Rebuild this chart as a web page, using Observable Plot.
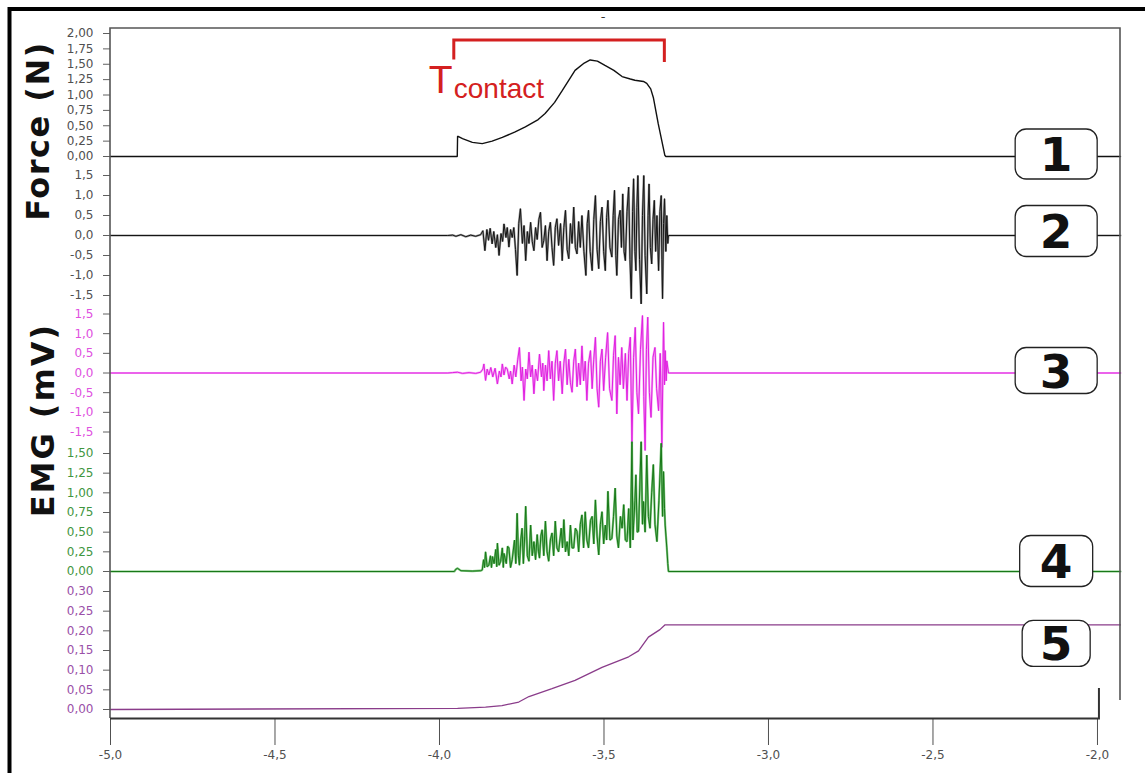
<!DOCTYPE html>
<html><head><meta charset="utf-8">
<script src="https://cdn.jsdelivr.net/npm/d3@7"></script>
<script src="https://cdn.jsdelivr.net/npm/@observablehq/plot@0.6"></script>
<style>
html,body{margin:0;padding:0;background:#fff;}
#chart{position:relative;width:1145px;height:773px;overflow:hidden;background:#fff;}
#chart svg{position:absolute;left:0;top:0;}
</style></head>
<body><div id="chart"></div>
<script>
// ---------- data ----------
const xDomain = [-5.0, -1.93];
const xTicks = [-5.0, -4.5, -4.0, -3.5, -3.0, -2.5, -2.0];
const forceTicks = [0, 0.25, 0.5, 0.75, 1.0, 1.25, 1.5, 1.75, 2.0];
const ch2Ticks = [-1.5, -1.0, -0.5, 0, 0.5, 1.0, 1.5];
const ch3Ticks = [-1.5, -1.0, -0.5, 0, 0.5, 1.0, 1.5];
const ch4Ticks = [0, 0.25, 0.5, 0.75, 1.0, 1.25, 1.5];
const ch5Ticks = [0, 0.05, 0.1, 0.15, 0.2, 0.25, 0.3];
const channelLabels = ["1", "2", "3", "4", "5"];
const tContactStart = -3.955, tContactEnd = -3.315;
const yTitles = ["Force (N)", "EMG (mV)"];

const force = [[-5.0,0],[-3.946,0],[-3.945,0.33],[-3.93,0.29],[-3.90,0.23],[-3.87,0.21],[-3.84,0.25],[-3.809,0.31],[-3.77,0.40],[-3.739,0.48],[-3.70,0.60],[-3.679,0.70],[-3.65,0.88],[-3.627,1.07],[-3.60,1.30],[-3.588,1.40],[-3.56,1.52],[-3.542,1.57],[-3.52,1.55],[-3.497,1.48],[-3.47,1.40],[-3.445,1.30],[-3.42,1.26],[-3.406,1.24],[-3.38,1.22],[-3.370,1.19],[-3.358,1.10],[-3.350,0.96],[-3.335,0.53],[-3.315,0.02],[-3.312,0],[-1.93,0]];

const ch2 = [[-5.0,0],[-3.975,0],[-3.96,0.01],[-3.95,-0.02],[-3.935,0.02],[-3.92,-0.03],[-3.905,0.01],[-3.89,-0.02],[-3.875,0.02],
[-3.868,0.12],[-3.862,-0.38],[-3.856,0.15],[-3.851,-0.12],[-3.846,0.18],[-3.840,-0.21],[-3.835,0.10],[-3.829,-0.30],[-3.824,0.02],[-3.819,-0.50],[-3.813,0.05],[-3.808,-0.15],[-3.804,0.29],[-3.798,-0.05],[-3.794,0.20],[-3.789,-0.29],[-3.784,0.15],[-3.779,-0.05],[-3.774,0.20],[-3.769,-0.35],[-3.764,-1.00],[-3.759,0.30],[-3.754,0.67],[-3.748,-0.20],[-3.743,0.25],[-3.738,-0.63],[-3.733,0.10],[-3.728,-0.20],[-3.723,0.33],[-3.718,-0.15],[-3.713,-0.38],[-3.708,0.20],[-3.703,-0.10],[-3.698,0.40],[-3.693,0.58],[-3.688,-0.30],[-3.683,-0.13],[-3.678,0.25],[-3.673,-0.63],[-3.668,0.10],[-3.663,0.33],[-3.658,-0.30],[-3.653,-0.75],[-3.648,0.20],[-3.643,0.42],[-3.638,-0.25],[-3.632,0.30],[-3.627,-0.63],[-3.622,0.20],[-3.617,0.63],[-3.612,-0.35],[-3.607,-0.58],[-3.602,0.30],[-3.597,-0.20],[-3.592,0.71],[-3.587,-0.30],[-3.582,-0.46],[-3.577,0.35],[-3.572,-0.30],[-3.567,0.50],[-3.561,-0.40],[-3.555,-1.00],[-3.551,0.30],[-3.547,0.63],[-3.542,-0.40],[-3.536,-0.88],[-3.531,0.40],[-3.526,1.00],[-3.521,-0.35],[-3.516,-0.83],[-3.511,0.35],[-3.506,0.71],[-3.501,-0.40],[-3.496,-0.88],[-3.492,0.45],[-3.488,0.88],[-3.482,-0.30],[-3.476,-0.54],[-3.472,0.50],[-3.468,1.13],[-3.464,-0.50],[-3.461,-1.00],[-3.456,0.40],[-3.451,0.63],[-3.447,-0.30],[-3.443,1.04],[-3.439,-0.40],[-3.435,-0.63],[-3.430,0.60],[-3.425,1.21],[-3.421,-0.60],[-3.417,-1.58],[-3.413,0.60],[-3.410,1.42],[-3.406,-0.40],[-3.403,-0.88],[-3.400,0.70],[-3.397,1.50],[-3.392,-0.60],[-3.387,-1.71],[-3.383,0.50],[-3.379,1.50],[-3.375,-0.50],[-3.370,-1.46],[-3.366,0.50],[-3.363,1.29],[-3.359,-0.30],[-3.355,-0.71],[-3.351,0.40],[-3.347,0.88],[-3.343,-0.40],[-3.339,0.50],[-3.334,-0.88],[-3.330,0.60],[-3.326,1.00],[-3.324,-0.60],[-3.322,-1.58],[-3.319,0.30],[-3.316,0.92],[-3.312,-0.40],[-3.309,0.50],[-3.306,-0.20],[-3.304,0],[-1.93,0]];

const ch3 = [[-5.0,0],[-3.975,0],[-3.96,0.01],[-3.945,0.02],[-3.93,-0.01],[-3.91,0.01],[-3.89,-0.01],[-3.875,0.02],
[-3.868,0.10],[-3.865,0.23],[-3.860,-0.19],[-3.855,0.10],[-3.850,-0.05],[-3.844,0.14],[-3.838,-0.10],[-3.831,0.12],[-3.824,-0.28],[-3.818,0.05],[-3.813,-0.10],[-3.809,0.23],[-3.804,-0.05],[-3.799,0.15],[-3.794,0.10],[-3.788,-0.15],[-3.784,0.05],[-3.779,-0.28],[-3.773,0.20],[-3.768,-0.10],[-3.762,0.35],[-3.757,0.65],[-3.752,-0.20],[-3.748,0.15],[-3.743,-0.70],[-3.738,0.10],[-3.733,-0.15],[-3.728,0.53],[-3.723,-0.10],[-3.718,0.20],[-3.713,-0.53],[-3.708,0.10],[-3.702,-0.20],[-3.696,0.48],[-3.690,-0.10],[-3.686,0.25],[-3.683,-0.45],[-3.678,0.20],[-3.673,-0.20],[-3.668,0.57],[-3.663,-0.15],[-3.658,0.30],[-3.653,-0.70],[-3.648,0.25],[-3.643,0.57],[-3.638,-0.20],[-3.633,0.30],[-3.627,-0.53],[-3.622,0.25],[-3.617,0.61],[-3.612,-0.30],[-3.607,0.35],[-3.602,-0.25],[-3.597,-0.49],[-3.592,0.30],[-3.587,0.61],[-3.582,-0.35],[-3.577,0.25],[-3.572,-0.30],[-3.567,0.69],[-3.562,-0.20],[-3.557,0.30],[-3.552,-0.70],[-3.547,0.25],[-3.541,0.57],[-3.536,-0.40],[-3.531,0.35],[-3.526,0.91],[-3.521,-0.40],[-3.516,-0.87],[-3.511,0.30],[-3.506,0.61],[-3.501,-0.45],[-3.495,0.40],[-3.489,1.03],[-3.483,-0.40],[-3.476,-0.70],[-3.471,0.45],[-3.466,0.95],[-3.461,-1.04],[-3.456,0.40],[-3.451,-0.30],[-3.446,0.65],[-3.441,-0.40],[-3.435,0.50],[-3.430,-0.70],[-3.425,0.50],[-3.420,0.91],[-3.415,-1.80],[-3.410,0.40],[-3.405,1.16],[-3.400,-0.50],[-3.395,-1.04],[-3.389,0.60],[-3.383,1.46],[-3.379,-0.60],[-3.375,-1.97],[-3.371,0.60],[-3.367,1.42],[-3.362,-0.50],[-3.357,-1.13],[-3.351,0.40],[-3.345,0.65],[-3.340,-0.40],[-3.334,-0.96],[-3.329,0.50],[-3.324,-1.89],[-3.319,1.29],[-3.316,-0.30],[-3.314,0.57],[-3.311,-0.20],[-3.309,0.31],[-3.304,0],[-1.93,0]];

const ch4 = [[-5.0,0],[-3.955,0],[-3.950,0.03],[-3.945,0.04],[-3.935,0.01],[-3.90,0.005],[-3.875,0.01],[-3.870,0.02],[-3.866,0.15],[-3.863,0.05],[-3.860,0.25],[-3.855,0.06],[-3.850,0.08],[-3.845,0.20],[-3.842,0.05],[-3.839,0.19],[-3.834,0.10],[-3.829,0.28],[-3.826,0.06],[-3.824,0.36],[-3.819,0.08],[-3.814,0.13],[-3.809,0.30],[-3.806,0.05],[-3.804,0.23],[-3.797,0.10],[-3.793,0.32],[-3.789,0.30],[-3.784,0.05],[-3.779,0.15],[-3.772,0.40],[-3.768,0.10],[-3.764,0.74],[-3.760,0.20],[-3.757,0.08],[-3.753,0.40],[-3.749,0.55],[-3.745,0.10],[-3.741,0.45],[-3.738,0.83],[-3.733,0.20],[-3.728,0.13],[-3.723,0.59],[-3.718,0.20],[-3.713,0.38],[-3.708,0.15],[-3.703,0.47],[-3.699,0.25],[-3.696,0.17],[-3.692,0.45],[-3.688,0.53],[-3.683,0.20],[-3.678,0.64],[-3.673,0.25],[-3.668,0.13],[-3.663,0.40],[-3.658,0.49],[-3.653,0.20],[-3.648,0.64],[-3.643,0.30],[-3.638,0.25],[-3.630,0.55],[-3.626,0.30],[-3.622,0.66],[-3.617,0.25],[-3.612,0.38],[-3.607,0.20],[-3.602,0.59],[-3.597,0.30],[-3.592,0.30],[-3.587,0.55],[-3.582,0.51],[-3.577,0.25],[-3.572,0.60],[-3.567,0.72],[-3.562,0.30],[-3.557,0.76],[-3.552,0.40],[-3.547,0.30],[-3.541,0.65],[-3.536,0.70],[-3.531,0.35],[-3.526,0.91],[-3.521,0.45],[-3.516,0.21],[-3.511,0.60],[-3.506,0.76],[-3.501,0.35],[-3.496,0.59],[-3.492,0.40],[-3.488,1.02],[-3.482,0.40],[-3.476,0.42],[-3.471,0.70],[-3.466,1.06],[-3.461,0.45],[-3.456,0.30],[-3.450,0.70],[-3.445,0.55],[-3.440,0.85],[-3.435,0.40],[-3.430,0.38],[-3.425,0.80],[-3.420,0.30],[-3.415,1.65],[-3.412,0.40],[-3.410,0.59],[-3.406,0.90],[-3.403,1.23],[-3.399,0.50],[-3.395,0.51],[-3.391,1.10],[-3.387,1.65],[-3.383,0.60],[-3.380,0.89],[-3.375,0.50],[-3.370,1.48],[-3.365,0.70],[-3.360,0.55],[-3.355,1.00],[-3.350,1.36],[-3.345,0.60],[-3.339,0.38],[-3.333,0.90],[-3.326,1.63],[-3.322,0.70],[-3.319,1.27],[-3.316,0.80],[-3.314,0.59],[-3.309,0.30],[-3.306,0.10],[-3.304,0],[-1.93,0]];

const ch5 = [[-5.0,0],[-3.945,0.003],[-3.86,0.006],[-3.81,0.01],[-3.759,0.019],[-3.728,0.033],[-3.658,0.053],[-3.588,0.074],[-3.506,0.107],[-3.425,0.134],[-3.395,0.149],[-3.365,0.184],[-3.33,0.203],[-3.315,0.215],[-1.93,0.215]];

// ---------- layout ----------
const W = 1145, H = 773, ML = 110, MR = 25;
const loc = d3.formatLocale({decimal: ",", thousands: ".", grouping: [3], currency: ["", ""], minus: "-"});
const root = document.getElementById("chart");
const baseStyle = {background: "transparent", overflow: "visible", fontFamily: "DejaVu Sans", fontSize: "12px"};

function panel({data, ticks, fmt, domain, top, bottom, stroke, under, labelColor, strokeWidth = 1}) {
  const marks = [
    Plot.axisY({ticks, tickSize: 7, tickFormat: () => "", color: "#606060"}),
    Plot.axisY({ticks, tickSize: 0, tickPadding: 17, tickFormat: loc.format(fmt), color: labelColor, fontSize: 12})
  ];
  if (under) marks.push(Plot.line(data, {x: d => d[0], y: d => d[1], stroke: under, strokeWidth: 2.2, strokeLinejoin: "miter"}));
  marks.push(Plot.line(data, {x: d => d[0], y: d => d[1], stroke, strokeWidth, strokeLinejoin: "miter"}));
  const p = Plot.plot({
    width: W, height: H, marginLeft: ML, marginRight: MR,
    marginTop: top, marginBottom: H - bottom,
    x: {domain: xDomain, axis: null},
    y: {domain},
    style: baseStyle,
    marks
  });
  root.appendChild(p);
  return p;
}

const pForce = panel({data: force, ticks: forceTicks, fmt: ".2f", domain: [0, 2], top: 33, bottom: 156, stroke: "#111", labelColor: "#505050", strokeWidth: 1.4});
const p2 = panel({data: ch2, ticks: ch2Ticks, fmt: ".1f", domain: [-1.5, 1.5], top: 175, bottom: 295, stroke: "#151515", under: "#9a9a9a", labelColor: "#505050"});
const p3 = panel({data: ch3, ticks: ch3Ticks, fmt: ".1f", domain: [-1.5, 1.5], top: 313.5, bottom: 431.5, stroke: "#e020e0", under: "#f6a6f6", labelColor: "#e050e0"});
const p4 = panel({data: ch4, ticks: ch4Ticks, fmt: ".2f", domain: [0, 1.5], top: 453, bottom: 571, stroke: "#187818", under: "#7cc47c", labelColor: "#3f963f"});
const p5 = panel({data: ch5, ticks: ch5Ticks, fmt: ".2f", domain: [0, 0.3], top: 591, bottom: 709, stroke: "#8a3c8a", labelColor: "#9a50a8", strokeWidth: 1.3});

// x axis
const px = Plot.plot({
  width: W, height: H, marginLeft: ML, marginRight: MR, marginTop: 0, marginBottom: H - 718,
  x: {domain: xDomain},
  style: baseStyle,
  marks: [Plot.axisX({ticks: xTicks, tickSize: 27, tickPadding: 5, tickFormat: loc.format(".1f"), color: "#505050", fontSize: 12})]
});
root.appendChild(px);

// ---------- overlay: frame, annotations, labels ----------
const svg = d3.select(root).append("svg").attr("width", W).attr("height", H)
  .style("font-family", "DejaVu Sans");
const fx = pForce.scale("x").apply, fy = pForce.scale("y").apply;
const X = v => fx(v);

// outer thick border
svg.append("line").attr("x1", 9.5).attr("x2", 9.5).attr("y1", 7).attr("y2", H).attr("stroke", "#000").attr("stroke-width", 4);
svg.append("line").attr("x1", 8).attr("x2", W).attr("y1", 9).attr("y2", 9).attr("stroke", "#000").attr("stroke-width", 4);

// plot frame
const fr = svg.append("g").attr("fill", "none");
fr.append("path").attr("d", `M${ML},718 V28 H${W - MR} V700`).attr("stroke", "#555").attr("stroke-width", 1.6);
fr.append("path").attr("d", `M${ML},718.5 H${X(-1.994)} V688`).attr("stroke", "#333").attr("stroke-width", 2);

// title dash
svg.append("text").attr("x", 603).attr("y", 21).attr("text-anchor", "middle").attr("font-size", 13).attr("fill", "#333").text("-");

// T contact bracket
const red = "#d42020";
svg.append("path")
  .attr("d", `M${X(tContactStart)},${fy(1.57)} V${fy(1.886)} H${X(tContactEnd)} V${fy(1.53)}`)
  .attr("fill", "none").attr("stroke", red).attr("stroke-width", 3);
svg.append("text").attr("x", X(tContactStart) - 25).attr("y", 93)
  .attr("font-family", "Liberation Sans").attr("font-size", 39).attr("fill", red).text("T");
svg.append("text").attr("x", X(tContactStart)).attr("y", 98)
  .attr("font-family", "Liberation Sans").attr("font-size", 28).attr("fill", red).text("contact");

// y titles
svg.append("text").attr("transform", "translate(49,131) rotate(-90)").attr("text-anchor", "middle")
  .attr("font-weight", "bold").attr("font-size", 32).attr("letter-spacing", 1.5).attr("fill", "#111").text(yTitles[0]);
svg.append("text").attr("transform", "translate(54,420) rotate(-90)").attr("text-anchor", "middle")
  .attr("font-weight", "bold").attr("font-size", 32).attr("letter-spacing", 2).attr("fill", "#111").text(yTitles[1]);

// channel label boxes
const tLabel = -2.124;
const panelsInfo = [
  {p: pForce, v: 0, dy: -2, w: 82, h: 50},
  {p: p2, v: 0, dy: -4, w: 82, h: 51},
  {p: p3, v: 0, dy: -2, w: 82, h: 46},
  {p: p4, v: 0, dy: -10, w: 73, h: 51},
  {p: p5, v: ch5[ch5.length - 1][1], dy: 19, w: 68, h: 46}
];
panelsInfo.forEach((b, i) => {
  const cx = b.p.scale("x").apply(tLabel);
  const cy = b.p.scale("y").apply(b.v) + b.dy;
  const g = svg.append("g");
  g.append("rect").attr("x", cx - b.w / 2).attr("y", cy - b.h / 2).attr("width", b.w).attr("height", b.h)
    .attr("rx", 11).attr("fill", "#fff").attr("stroke", "#222").attr("stroke-width", 1.3);
  g.append("text").attr("x", cx).attr("y", cy + 17).attr("text-anchor", "middle")
    .attr("font-weight", "bold").attr("font-size", 47).attr("fill", "#111").text(channelLabels[i]);
});
</script>
</body></html>
